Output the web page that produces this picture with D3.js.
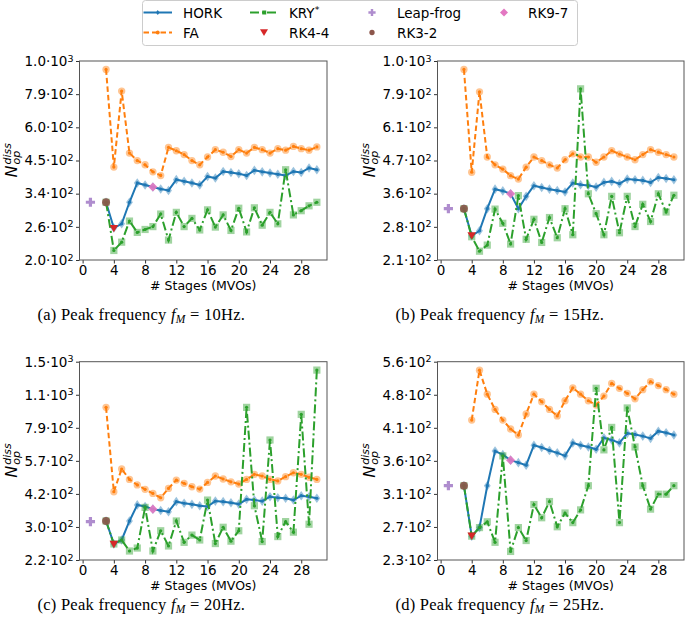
<!DOCTYPE html>
<html><head><meta charset="utf-8">
<script src="https://cdn.jsdelivr.net/npm/d3@7"></script>
<style>
body{margin:0;background:#fff;}
svg{display:block;font-family:"DejaVu Sans",sans-serif;}
</style>
</head><body>
<svg id="chart" width="685" height="624"></svg>
<script>
// ---------- data ----------
const stages = d3.range(3, 31);        // HORK / KRY* / FA stages 3..30
const stagesFrom4 = d3.range(4, 31);   // FA in panel (d)
const xTickValues = [0, 4, 8, 12, 16, 20, 24, 28];

const seriesNames = ["HORK", "FA", "KRY*", "Leap-frog", "RK4-4", "RK3-2", "RK9-7"];

// panel (a) fM = 10Hz
const horkA = [319,259,268,319,373,367,361,355,351,383,378,373,367,393,388,409,406,402,396,413,408,404,400,396,409,406,421,415];
const faA   = [934,424,784,475,447,432,408,396,497,484,469,447,432,460,488,478,462,488,475,497,488,475,492,486,501,492,486,499];
const kryA  = [319,216,231,274,250,256,262,290,235,294,262,280,255,300,261,288,254,304,251,305,265,294,268,415,288,298,310,319];
// panel (b) fM = 15Hz
const horkB = [314,254,264,314,366,361,353,314,346,376,371,366,362,358,384,379,377,372,386,389,382,396,394,392,386,401,398,394];
const faB   = [936,418,785,471,443,428,407,396,435,471,458,443,432,461,483,471,471,452,471,495,482,471,461,480,499,489,480,471];
const kryB  = [314,252,225,236,313,280,238,348,247,289,241,293,250,314,256,804,353,302,256,346,260,346,273,325,284,353,306,349];
// panel (c) fM = 20Hz
const horkC = [321,257,267,321,375,369,360,355,351,387,381,377,372,369,389,387,383,378,396,393,389,406,402,400,393,410,406,400];
const faC   = [964,426,531,480,455,436,419,402,440,477,462,447,437,466,496,482,469,459,480,504,496,480,473,493,512,504,490,480];
const kryC  = [321,257,267,240,247,366,240,292,252,321,261,280,267,393,258,302,264,292,964,372,263,703,276,319,288,901,311,1383];
// panel (d) fM = 25Hz
const horkD = [321,256,266,321,375,369,360,356,352,385,381,376,372,367,389,385,382,378,398,394,389,406,404,401,397,410,407,403];
const faD   = [431,539,484,452,431,414,403,443,484,468,452,439,470,498,484,470,461,480,508,497,486,474,494,512,503,494,484];
const kryD  = [321,256,266,273,249,367,239,266,251,295,278,299,267,284,272,288,321,497,377,417,272,455,382,321,289,309,309,321];

// single-method points per panel (a,b,c,d)
const leapfrogStage = 1, rk32Stage = 3, rk44Stage = 4, rk97Stage = 9;
const leapfrogVals = [319, 314, 319, 321];
const rk32Vals     = [319, 314, 321, 321];
const rk44Vals     = [258, 254, 256, 256];
const rk97Vals     = [361, 353, 360, 360];

// y tick labels (mantissa·10^exp)
const yTicksA = ["2.0·10^2","2.6·10^2","3.4·10^2","4.5·10^2","6.0·10^2","7.9·10^2","1.0·10^3"];
const yTicksB = ["2.1·10^2","2.8·10^2","3.6·10^2","4.7·10^2","6.1·10^2","7.9·10^2","1.0·10^3"];
const yTicksC = ["2.2·10^2","3.0·10^2","4.2·10^2","5.7·10^2","7.9·10^2","1.1·10^3","1.5·10^3"];
const yTicksD = ["2.3·10^2","2.7·10^2","3.1·10^2","3.6·10^2","4.1·10^2","4.8·10^2","5.6·10^2"];

const captionLetters = ["(a)", "(b)", "(c)", "(d)"];
const captionFreqs = ["10Hz.", "15Hz.", "20Hz.", "25Hz."];

// ---------- layout / style ----------
const colors = {hork:"#1f77b4", fa:"#ff7f0e", kry:"#2ca02c", leap:"#9467bd", rk44:"#d62728", rk32:"#8c564b", rk97:"#e377c2"};
const geo = [
  {left:79.5, right:327, top:61, bottom:260, capY:320},
  {left:437.5, right:684, top:61, bottom:260, capY:320},
  {left:79.5, right:327, top:361.7, bottom:560, capY:610},
  {left:437.5, right:684, top:361.7, bottom:560, capY:610}
];
const panelData = [
  {hork:horkA, fa:faA, faX:stages, kry:kryA, ticks:yTicksA},
  {hork:horkB, fa:faB, faX:stages, kry:kryB, ticks:yTicksB},
  {hork:horkC, fa:faC, faX:stages, kry:kryC, ticks:yTicksC},
  {hork:horkD, fa:faD, faX:stagesFrom4, kry:kryD, ticks:yTicksD}
];

const svg = d3.select("#chart");
const parseTick = s => { const [m, e] = s.split("·10^"); return +m * Math.pow(10, +e); };

const shapes = {
  thinDiamond: "M0,-4.8L3.4,0L0,4.8L-3.4,0Z",
  diamond: "M0,-4.6L4.6,0L0,4.6L-4.6,0Z",
  square: "M-3.6,-3.6H3.6V3.6H-3.6Z",
  circle: d3.symbol(d3.symbolCircle, 42)(),
  bigCircle: d3.symbol(d3.symbolCircle, 50)(),
  triDown: "M-4.3,-3.6L4.3,-3.6L0,3.8Z",
  plus: "M-1.6,-4.6H1.6V-1.6H4.6V1.6H1.6V4.6H-1.6V1.6H-4.6V-1.6H-1.6Z"
};

function drawSeries(g, x, y, xs, vs, color, shape, dash) {
  const pts = xs.map((s, i) => [s, vs[i]]);
  g.append("g").selectAll("path").data(pts).join("path")
    .attr("d", shape).attr("transform", d => `translate(${x(d[0])},${y(d[1])})`)
    .attr("fill", color).attr("fill-opacity", 0.45);
  const line = d3.line().x(d => x(d[0])).y(d => y(d[1]));
  g.append("path").attr("d", line(pts)).attr("fill", "none").attr("stroke", color)
    .attr("stroke-width", 2).attr("stroke-dasharray", dash);
  g.append("g").selectAll("circle").data(pts).join("circle")
    .attr("cx", d => x(d[0])).attr("cy", d => y(d[1])).attr("r", 1.6).attr("fill", color);
}

geo.forEach((G, p) => {
  const D = panelData[p];
  const yb = parseTick(D.ticks[0]), yt = parseTick(D.ticks[D.ticks.length - 1]);
  const x = d3.scaleLinear().domain([-0.4, 31.3]).range([G.left, G.right]);
  const y = d3.scaleLog().domain([yb, yt]).range([G.bottom, G.top]);
  const tickVals = D.ticks.map((t, i) => yb * Math.pow(yt / yb, i / (D.ticks.length - 1)));
  const g = svg.append("g");

  // axes
  const ax = g.append("g").attr("transform", `translate(0,${G.bottom})`)
    .call(d3.axisBottom(x).tickValues(xTickValues).tickSize(3.5).tickPadding(2).tickSizeOuter(0));
  ax.selectAll("text").attr("font-size", 13.5).attr("fill", "#000").attr("font-family", "DejaVu Sans");
  const ay = g.append("g").attr("transform", `translate(${G.left},0)`)
    .call(d3.axisLeft(y).tickValues(tickVals).tickSize(3.5).tickPadding(2.5).tickSizeOuter(0));
  ay.selectAll("text").attr("font-size", 13.5).attr("fill", "#000").attr("font-family", "DejaVu Sans")
    .each(function(d, i) {
      const [m, e] = D.ticks[i].split("^");
      const t = d3.select(this).text(null);
      t.append("tspan").text(m);
      t.append("tspan").attr("dy", "-0.45em").attr("font-size", "9.5px").text(e);
    });
  g.selectAll(".domain").remove();
  g.selectAll(".tick line").attr("stroke", "#333");
  g.append("rect").attr("x", G.left).attr("y", G.top).attr("width", G.right - G.left).attr("height", G.bottom - G.top)
    .attr("fill", "none").attr("stroke", "#555").attr("stroke-width", 1);

  // series
  const plot = g.append("g");
  drawSeries(plot, x, y, stages, D.hork, colors.hork, shapes.thinDiamond, null);
  drawSeries(plot, x, y, D.faX, D.fa, colors.fa, shapes.circle, "5.5,3");
  drawSeries(plot, x, y, stages, D.kry, colors.kry, shapes.square, "9,3,2,3");

  plot.append("path").attr("d", shapes.plus).attr("fill", colors.leap).attr("fill-opacity", 0.75)
    .attr("transform", `translate(${x(leapfrogStage)},${y(leapfrogVals[p])})`);
  plot.append("path").attr("d", shapes.triDown).attr("fill", colors.rk44)
    .attr("transform", `translate(${x(rk44Stage)},${y(rk44Vals[p])})`);
  plot.append("path").attr("d", shapes.bigCircle).attr("fill", colors.rk32).attr("fill-opacity", 0.9)
    .attr("transform", `translate(${x(rk32Stage)},${y(rk32Vals[p])})`);
  plot.append("path").attr("d", shapes.diamond).attr("fill", colors.rk97).attr("fill-opacity", 0.9)
    .attr("transform", `translate(${x(rk97Stage)},${y(rk97Vals[p])})`);

  // x label
  g.append("text").attr("x", (G.left + G.right) / 2).attr("y", G.bottom + 30).attr("text-anchor", "middle")
    .attr("font-size", 12.5).text("# Stages (MVOs)");

  // y label  N_op^diss
  const cy = (G.top + G.bottom) / 2;
  const yl = g.append("g").attr("transform", `translate(${G.left - 63},${cy}) rotate(-90)`);
  yl.append("text").attr("x", -17).attr("y", 0).attr("font-size", 16).attr("font-style", "italic").text("N");
  yl.append("text").attr("x", -4).attr("y", -5.5).attr("font-size", 11).attr("font-style", "italic").text("diss");
  yl.append("text").attr("x", -4).attr("y", 3.5).attr("font-size", 11).attr("font-style", "italic").text("op");

  // caption
  const cap = g.append("text").attr("x", G.left - 42).attr("y", G.capY)
    .attr("font-family", "'Liberation Serif', serif").attr("font-size", 16.5).attr("letter-spacing", 0.25);
  cap.append("tspan").text(captionLetters[p] + " Peak frequency ");
  cap.append("tspan").attr("font-style", "italic").text("f");
  cap.append("tspan").attr("font-size", 11.5).attr("font-style", "italic").attr("dy", 3).text("M");
  cap.append("tspan").attr("dy", -3).text(" = " + captionFreqs[p]);
});

// ---------- legend ----------
const lg = svg.append("g");
lg.append("rect").attr("x", 142.5).attr("y", 0.5).attr("width", 435).attr("height", 45).attr("rx", 3)
  .attr("fill", "#fff").attr("fill-opacity", 0.85).attr("stroke", "#ccc");
const legendItems = [
  {name: seriesNames[0], col: 0, row: 0, color: colors.hork, kind: "line", dash: null, mk: "M0,-2.4L1.8,0L0,2.4L-1.8,0Z"},
  {name: seriesNames[1], col: 0, row: 1, color: colors.fa, kind: "line", dash: "5.5,3", mk: d3.symbol(d3.symbolCircle, 12)()},
  {name: seriesNames[2], col: 1, row: 0, color: colors.kry, kind: "line", dash: "9,3,2,3", mk: "M-2,-2H2V2H-2Z"},
  {name: seriesNames[4], col: 1, row: 1, color: colors.rk44, kind: "pt", mk: "M-4,-3.3L4,-3.3L0,3.5Z"},
  {name: seriesNames[3], col: 2, row: 0, color: colors.leap, kind: "pt", mk: "M-1.2,-3.6H1.2V-1.2H3.6V1.2H1.2V3.6H-1.2V1.2H-3.6V-1.2H-1.2Z", op: 0.75},
  {name: seriesNames[5], col: 2, row: 1, color: colors.rk32, kind: "pt", mk: d3.symbol(d3.symbolCircle, 22)()},
  {name: seriesNames[6], col: 3, row: 0, color: colors.rk97, kind: "pt", mk: "M0,-4L4,0L0,4L-4,0Z"}
];
const colX = [143.5, 250, 358, 490];
const textX = [183, 289, 397, 528];
const rowY = [12.5, 32.5];
legendItems.forEach(it => {
  const cx = colX[it.col], cyy = rowY[it.row];
  if (it.kind === "line") {
    lg.append("line").attr("x1", cx).attr("x2", cx + 28.5).attr("y1", cyy).attr("y2", cyy)
      .attr("stroke", it.color).attr("stroke-width", 2).attr("stroke-dasharray", it.dash);
    lg.append("path").attr("d", it.mk).attr("fill", it.color).attr("transform", `translate(${cx + 14.25},${cyy})`);
  } else {
    lg.append("path").attr("d", it.mk).attr("fill", it.color).attr("fill-opacity", it.op || 1)
      .attr("transform", `translate(${cx + 14},${cyy})`);
  }
  const t = lg.append("text").attr("x", textX[it.col]).attr("y", cyy + 5).attr("font-size", 13.5);
  if (it.name.endsWith("*")) {
    t.append("tspan").text(it.name.slice(0, -1));
    t.append("tspan").attr("dy", -5).attr("font-size", 9.5).text("*");
  } else t.text(it.name);
});
</script>
</body></html>
